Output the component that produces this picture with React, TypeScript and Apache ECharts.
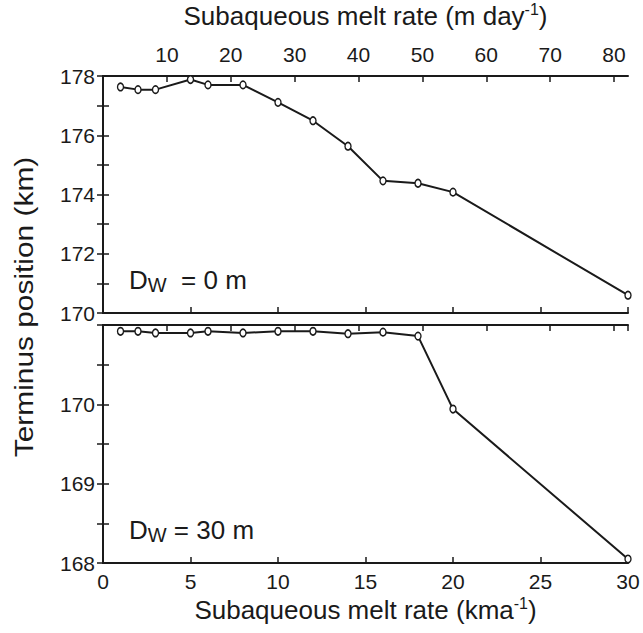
import React, { useEffect, useRef } from "react";
import * as echarts from "echarts";

const KMA_TO_MDAY = 1000 / 365;
const meltRateKma = [1, 2, 3, 5, 6, 8, 10, 12, 14, 16, 18, 20, 30];
const terminusDw0 = [177.63, 177.54, 177.54, 177.88, 177.7, 177.7, 177.11, 176.49, 175.63, 174.46, 174.38, 174.08, 170.6];
const terminusDw30 = [170.92, 170.92, 170.9, 170.9, 170.92, 170.9, 170.92, 170.92, 170.89, 170.91, 170.86, 169.94, 168.05];
const panelLabels = ["{d|D}{w|W}{d|  = 0 m}", "{d|D}{w|W}{d| = 30 m}"];

const FONT = "'Liberation Sans', Arial, Helvetica, sans-serif";
const INK = "#1a1a1a";

export default function App() {
  const ref = useRef<HTMLDivElement>(null);
  useEffect(() => {
    document.body.style.margin = "0";
    const chart = echarts.init(ref.current!, null, { renderer: "svg" });
    const axisLine = { show: true, lineStyle: { color: INK, width: 2 } };
    const tickIn = { show: true, inside: true, length: 6, lineStyle: { color: INK, width: 1.5 } };
    const lbl = { color: INK, fontSize: 21, fontFamily: FONT };
    const titleRich = {
      a: { fontSize: 26, fontFamily: FONT, color: INK, lineHeight: 30 },
      s: { fontSize: 16, fontFamily: FONT, color: INK, lineHeight: 16, verticalAlign: "top" as const },
    };
    const mdayMax = 30 * KMA_TO_MDAY;
    const lineSeries = (data: number[], idx: number) => ({
      type: "line",
      xAxisIndex: idx * 2,
      yAxisIndex: idx * 2,
      data: meltRateKma.map((x, i) => [x, data[i]]),
      symbol: "circle",
      symbolSize: [6, 7.5],
      clip: false,
      lineStyle: { color: INK, width: 2 },
      itemStyle: { color: "#ffffff", borderColor: INK, borderWidth: 1.5 },
      z: 5,
    });
    const dText = (i: number, y: number) => ({
      type: "text",
      x: 129,
      y,
      style: {
        text: panelLabels[i],
        verticalAlign: "middle",
        rich: {
          d: { fontSize: 26, fontFamily: FONT, fill: INK, lineHeight: 30 },
          w: { fontSize: 20, fontFamily: FONT, fill: INK, lineHeight: 20, verticalAlign: "bottom" },
        },
      },
    });
    chart.setOption({
      animation: false,
      backgroundColor: "#ffffff",
      grid: [
        { left: 103, top: 74, width: 525, height: 239 },
        { left: 103, top: 325, width: 525, height: 238 },
      ],
      xAxis: [
        { gridIndex: 0, type: "value", position: "bottom", min: 0, max: 30, interval: 5, axisLine, axisTick: tickIn, axisLabel: { show: false }, splitLine: { show: false } },
        {
          gridIndex: 0, type: "value", position: "top", min: 0, max: mdayMax, interval: 10, axisLine, axisTick: tickIn,
          axisLabel: { ...lbl, margin: 11, showMinLabel: false, showMaxLabel: false, formatter: (v: number) => (v > 0 && v <= 80 ? String(v) : "") },
          splitLine: { show: false },
          name: "{a|Subaqueous melt rate (m day}{s|-1}{a|)}", nameLocation: "middle", nameGap: 45,
          nameTextStyle: { rich: titleRich },
        },
        {
          gridIndex: 1, type: "value", position: "bottom", min: 0, max: 30, interval: 5, axisLine, axisTick: tickIn,
          axisLabel: { ...lbl, margin: 8 }, splitLine: { show: false },
          name: "{a|Subaqueous melt rate (kma}{s|-1}{a|)}", nameLocation: "middle", nameGap: 32,
          nameTextStyle: { rich: titleRich },
        },
        { gridIndex: 1, type: "value", position: "top", min: 0, max: mdayMax, interval: 10, axisLine, axisTick: tickIn, axisLabel: { show: false }, splitLine: { show: false } },
      ],
      yAxis: [
        {
          gridIndex: 0, type: "value", position: "left", min: 170, max: 178, interval: 1, axisLine, axisTick: tickIn,
          axisLabel: { ...lbl, margin: 8, formatter: (v: number) => (v % 2 === 0 ? String(v) : "") }, splitLine: { show: false },
        },
        { gridIndex: 0, type: "value", position: "right", min: 170, max: 178, interval: 1, axisLine, axisTick: tickIn, axisLabel: { show: false }, splitLine: { show: false } },
        {
          gridIndex: 1, type: "value", position: "left", min: 168, max: 171, interval: 0.5, axisLine, axisTick: tickIn,
          axisLabel: { ...lbl, margin: 8, formatter: (v: number) => (Number.isInteger(v) && v < 171 ? String(v) : "") }, splitLine: { show: false },
        },
        { gridIndex: 1, type: "value", position: "right", min: 168, max: 171, interval: 0.5, axisLine, axisTick: tickIn, axisLabel: { show: false }, splitLine: { show: false } },
      ],
      series: [lineSeries(terminusDw0, 0), lineSeries(terminusDw30, 1)],
      graphic: [
        {
          type: "text",
          x: 24,
          y: 307,
          rotation: Math.PI / 2,
          scaleX: 1.15,
          style: { text: "Terminus position (km)", fontSize: 26, fontFamily: FONT, fill: INK, align: "center", verticalAlign: "middle" },
        },
        dText(0, 280),
        dText(1, 530),
      ],
    });
    return () => chart.dispose();
  }, []);
  return <div ref={ref} style={{ width: 643, height: 633 }} />;
}
